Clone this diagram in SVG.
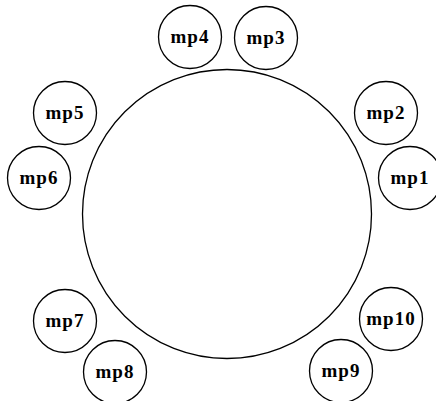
<svg xmlns="http://www.w3.org/2000/svg" width="436" height="401" viewBox="0 0 436 401">
<style>
circle{fill:none;stroke:#000;stroke-width:1.3}
text{font-family:"Liberation Serif","Times New Roman",serif;font-weight:bold;font-size:19px;text-anchor:middle;letter-spacing:1px;fill:#000}
</style>
<rect width="436" height="401" fill="#fff"/>
<g id="ring"><circle cx="227" cy="214" r="144.5"/></g>
<g id="mp1"><circle cx="410" cy="178" r="31.5"/><text x="410" y="184">mp1</text></g>
<g id="mp2"><circle cx="386" cy="113" r="31.5"/><text x="386" y="119">mp2</text></g>
<g id="mp3"><circle cx="266" cy="38" r="31.5"/><text x="266" y="44">mp3</text></g>
<g id="mp4"><circle cx="190" cy="37" r="31.5"/><text x="190" y="43">mp4</text></g>
<g id="mp5"><circle cx="65" cy="113" r="31.5"/><text x="65" y="119">mp5</text></g>
<g id="mp6"><circle cx="39" cy="178" r="31.5"/><text x="39" y="184">mp6</text></g>
<g id="mp7"><circle cx="65" cy="321" r="31.5"/><text x="65" y="327">mp7</text></g>
<g id="mp8"><circle cx="115" cy="372" r="31.5"/><text x="115" y="378">mp8</text></g>
<g id="mp9"><circle cx="341" cy="371" r="31.5"/><text x="341" y="377">mp9</text></g>
<g id="mp10"><circle cx="391" cy="319" r="31.5"/><text x="391" y="325">mp10</text></g>
<g id="connectors"></g>
</svg>
